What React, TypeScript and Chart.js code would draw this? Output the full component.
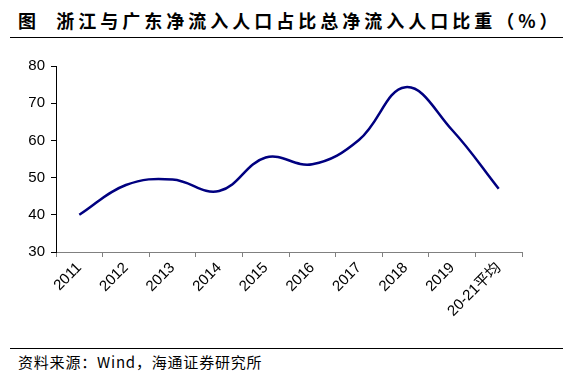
import React, { useEffect, useRef } from "react";
import { Chart, registerables } from "chart.js";

Chart.register(...registerables);

const categories = ["2011", "2012", "2013", "2014", "2015", "2016", "2017", "2018", "2019", "20-21平均"];
const shareValues = [40, 48, 49.5, 46.4, 55.4, 53.6, 60.1, 74.3, 62.8, 47];
const yMin = 30;
const yMax = 80;
const yStep = 10;

const titleText = "图  浙江与广东净流入人口占比总净流入人口比重（%）";
const sourceText = "资料来源：Wind，海通证券研究所";

export default function App() {
  const canvasRef = useRef<HTMLCanvasElement | null>(null);

  useEffect(() => {
    const canvas = canvasRef.current;
    if (!canvas) return;
    const chart = new Chart(canvas, {
      type: "line",
      data: {
        labels: categories,
        datasets: [
          {
            data: shareValues,
            borderColor: "#000080",
            borderWidth: 2.5,
            tension: 0.4,
            pointRadius: 0,
            fill: false,
          },
        ],
      },
      options: {
        animation: false,
        responsive: false,
        maintainAspectRatio: false,
        layout: { padding: { top: 26, right: 51, left: 0, bottom: 0 } },
        plugins: { legend: { display: false }, tooltip: { enabled: false }, title: { display: false } },
        scales: {
          x: {
            type: "category",
            offset: true,
            grid: {
              offset: true,
              drawOnChartArea: false,
              drawTicks: true,
              tickLength: 5,
              color: "#808080",
            },
            border: { color: "#808080", width: 1 },
            ticks: {
              minRotation: 45,
              maxRotation: 45,
              autoSkip: false,
              padding: 2,
              color: "#000",
              font: { family: "Liberation Sans, Arial, Noto Sans CJK SC", size: 15 },
            },
            afterFit: (s: any) => {
              s.height = 93;
            },
          },
          y: {
            min: yMin,
            max: yMax,
            grid: { drawOnChartArea: false, drawTicks: true, tickLength: 5, color: "#000" },
            border: { color: "#000", width: 1 },
            ticks: {
              stepSize: yStep,
              padding: 6,
              color: "#000",
              font: { family: "Liberation Sans, Arial", size: 15 },
            },
            afterFit: (s: any) => {
              s.width = 56;
            },
          },
        },
      },
    });
    return () => chart.destroy();
  }, []);

  return (
    <div
      style={{
        position: "fixed",
        left: 0,
        top: 0,
        width: 573,
        height: 376,
        background: "#fff",
        overflow: "hidden",
      }}
    >
      <div
        style={{
          position: "absolute",
          left: 18,
          top: 8,
          fontFamily: "'Noto Sans CJK SC', sans-serif",
          fontWeight: 700,
          fontSize: 18,
          lineHeight: "24px",
          letterSpacing: 4,
          whiteSpace: "pre",
          color: "#000",
        }}
      >
        {titleText}
      </div>
      <div style={{ position: "absolute", left: 10, top: 37, width: 553, height: 0, borderTop: "1.5px solid #000" }} />
      <canvas
        ref={canvasRef}
        width={573}
        height={305}
        style={{ position: "absolute", left: 0, top: 40, width: 573, height: 305 }}
      />
      <div style={{ position: "absolute", left: 10, top: 348, width: 553, height: 0, borderTop: "1.5px solid #000" }} />
      <div
        style={{
          position: "absolute",
          left: 18,
          top: 352,
          fontFamily: "'Noto Sans CJK SC', sans-serif",
          fontSize: 15,
          lineHeight: "20px",
          letterSpacing: 0.8,
          whiteSpace: "pre",
          color: "#000",
        }}
      >
        {sourceText}
      </div>
    </div>
  );
}
